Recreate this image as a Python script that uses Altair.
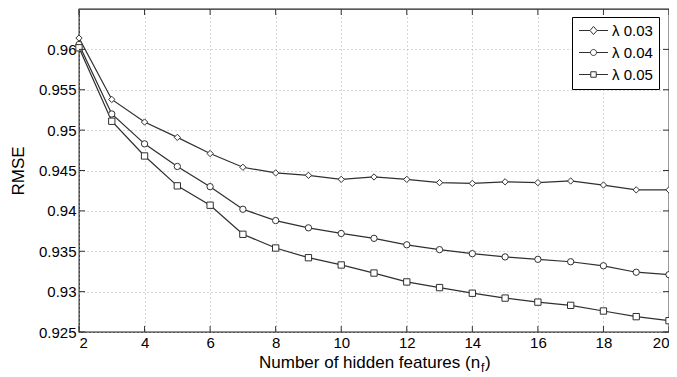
import altair as alt
import pandas as pd

# ---- data ----
nf = [2, 3, 4, 5, 6, 7, 8, 9, 10, 11, 12, 13, 14, 15, 16, 17, 18, 19, 20]
rmse_003 = [0.9614, 0.9538, 0.9510, 0.9491, 0.9471, 0.9454, 0.9447, 0.9444, 0.9439,
            0.9442, 0.9439, 0.9435, 0.9434, 0.9436, 0.9435, 0.9437, 0.9432, 0.9426, 0.9426]
rmse_004 = [0.9606, 0.9520, 0.9483, 0.9455, 0.9430, 0.9402, 0.9388, 0.9379, 0.9372,
            0.9366, 0.9358, 0.9352, 0.9347, 0.9343, 0.9340, 0.9337, 0.9332, 0.9324, 0.9321]
rmse_005 = [0.9602, 0.9511, 0.9468, 0.9431, 0.9407, 0.9371, 0.9354, 0.9342, 0.9333,
            0.9323, 0.9312, 0.9305, 0.9298, 0.9292, 0.9287, 0.9283, 0.9276, 0.9269, 0.9264]
series_names = ["λ 0.03", "λ 0.04", "λ 0.05"]
x_ticks = [2, 4, 6, 8, 10, 12, 14, 16, 18, 20]
y_ticks = [0.925, 0.93, 0.935, 0.94, 0.945, 0.95, 0.955, 0.96]

rows = []
for name, vals in zip(series_names, [rmse_003, rmse_004, rmse_005]):
    for x, v in zip(nf, vals):
        rows.append({"nf": x, "rmse": v, "series": name})
df = pd.DataFrame(rows)
dxt = pd.DataFrame({"v": x_ticks})
dyt = pd.DataFrame({"v": y_ticks})

W, H = 590, 323
FONT = "Liberation Sans"
INK = "#303030"

xs = alt.Scale(domain=[2, 20], nice=False, zero=False)
ys = alt.Scale(domain=[0.925, 0.965], nice=False, zero=False)

x_enc = alt.X("nf:Q", scale=xs, axis=alt.Axis(values=x_ticks, format="d", title=None,
                                               labelPadding=3, tickSize=0, ticks=False,
                                               domain=False))
y_enc = alt.Y("rmse:Q", scale=ys, axis=alt.Axis(values=y_ticks, format=".3~f", title="RMSE",
                                                 labelPadding=3, tickSize=0, ticks=False,
                                                 domain=False, titlePadding=11))

lines = alt.Chart(df).mark_line(color=INK, strokeWidth=1.25).encode(
    x=x_enc, y=y_enc, detail="series:N")

points = alt.Chart(df).mark_point(filled=False, fill="white", fillOpacity=1, stroke=INK,
                                  strokeWidth=1, size=40, opacity=1).encode(
    x="nf:Q", y="rmse:Q",
    shape=alt.Shape("series:N", scale=alt.Scale(domain=series_names,
                                                range=["diamond", "circle", "square"]),
                    legend=None))

# legend symbols: a short line with the marker in its middle (unit = 7 px)
legend_paths = [
    "M-2.07,0H-0.5M0.5,0H2.07M0,-0.58L0.5,0L0,0.58L-0.5,0Z",
    "M-2.07,0H-0.43M0.43,0H2.07M0.43,0A0.43,0.43,0,1,1,-0.43,0A0.43,0.43,0,1,1,0.43,0Z",
    "M-2.07,0H-0.39M0.39,0H2.07M-0.39,-0.39H0.39V0.39H-0.39Z",
]
legend_layer = alt.Chart(df).mark_point(opacity=0).encode(
    x="nf:Q", y="rmse:Q",
    shape=alt.Shape("series:N",
                    scale=alt.Scale(domain=series_names, range=legend_paths),
                    legend=alt.Legend(title=None, orient="none", legendX=493, legendY=8,
                                      padding=6, strokeColor="black", fillColor="white",
                                      symbolSize=196, symbolStrokeColor=INK,
                                      symbolFillColor="white", symbolStrokeWidth=1,
                                      symbolOpacity=1, symbolOffset=8, rowPadding=6,
                                      labelFont=FONT, labelFontSize=15, labelColor="black",
                                      labelOffset=11,
                                      labelExpr="datum.label + '\u00a0\u00a0\u00a0'")))

tick_style = dict(color=INK, strokeWidth=1)
xt_bottom = alt.Chart(dxt).mark_rule(**tick_style).encode(
    x=alt.X("v:Q", scale=xs), y=alt.value(H), y2=alt.value(H - 6))
xt_top = alt.Chart(dxt).mark_rule(**tick_style).encode(
    x=alt.X("v:Q", scale=xs), y=alt.value(0), y2=alt.value(6))
yt_left = alt.Chart(dyt).mark_rule(**tick_style).encode(
    y=alt.Y("v:Q", scale=ys), x=alt.value(0), x2=alt.value(6))
yt_right = alt.Chart(dyt).mark_rule(**tick_style).encode(
    y=alt.Y("v:Q", scale=ys), x=alt.value(W), x2=alt.value(W - 6))

title_main = alt.Chart(pd.DataFrame({"t": ["Number of hidden features (n"]})).mark_text(
    font=FONT, fontSize=17, align="left", baseline="alphabetic", color="black").encode(
    text="t:N", x=alt.value(180), y=alt.value(359))
title_sub = alt.Chart(pd.DataFrame({"t": ["f"]})).mark_text(
    font=FONT, fontSize=12, align="left", baseline="alphabetic", color="black").encode(
    text="t:N", x=alt.value(402), y=alt.value(363))
title_close = alt.Chart(pd.DataFrame({"t": [")"]})).mark_text(
    font=FONT, fontSize=17, align="left", baseline="alphabetic", color="black").encode(
    text="t:N", x=alt.value(406), y=alt.value(359))

chart = alt.layer(
    lines, points, legend_layer, xt_bottom, xt_top, yt_left, yt_right,
    title_main, title_sub, title_close
).resolve_scale(shape="independent").properties(
    width=W, height=H,
    autosize=alt.AutoSizeParams(type="none"),
    padding={"left": 71, "top": 1, "right": 0, "bottom": 45},
).configure_view(
    stroke="#222222", strokeWidth=1.3
).configure_axis(
    labelFont=FONT, labelFontSize=15, labelColor="black",
    titleFont=FONT, titleFontSize=17, titleColor="black", titleFontWeight="normal",
    gridColor="#b0b0b0", gridDash=[1, 3], gridWidth=1, gridOpacity=1,
)

chart.save("out.html", embed_options={"renderer": "svg", "actions": False})
